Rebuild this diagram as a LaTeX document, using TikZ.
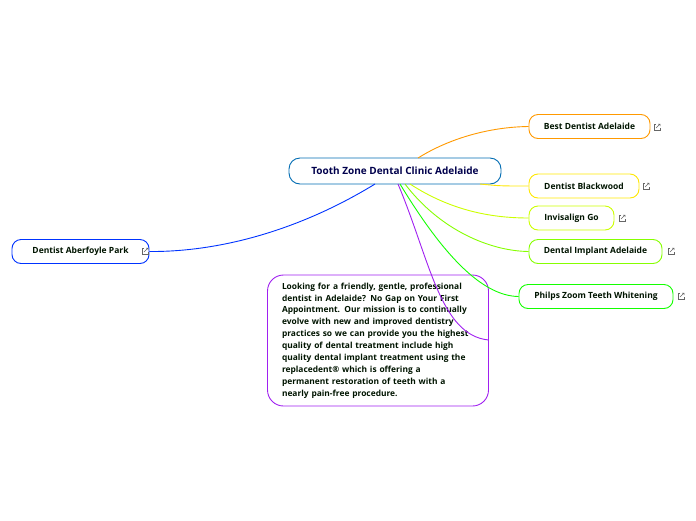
\documentclass[tikz,border=0pt]{standalone}
\usepackage{fontspec}
\setmainfont{Open Sans}
\usetikzlibrary{calc}
\definecolor{purp}{RGB}{160,32,240}
\begin{document}
\begin{tikzpicture}[x=1pt,y=-1pt,
  topic/.style={draw,rounded corners=9pt,line width=0.9pt,minimum height=24pt,font=\bfseries\fontsize{8.5}{9}\selectfont,text=black!80!green!40!black,inner xsep=12pt},
  link/.style={line width=0.9pt},
  ico/.style={gray!80!black,line width=0.5pt}]
\useasboundingbox (0,0) rectangle (696,520);
\newcommand{\exticon}[1]{\draw[ico] ($(#1)+(-1,-3)$) -- ($(#1)+(-3,-3)$) -- ($(#1)+(-3,3)$) -- ($(#1)+(3,3)$) -- ($(#1)+(3,1)$); \draw[ico] ($(#1)+(-1,1)$) -- ($(#1)+(3,-3)$) ($(#1)+(1,-3)$) -- ($(#1)+(3,-3)$) -- ($(#1)+(3,-1)$);}
\node[draw=blue!40!cyan!70!black,rounded corners=11pt,line width=0.9pt,minimum width=212pt,minimum height=26pt,font=\bfseries\fontsize{10}{11}\selectfont,text=blue!30!black] (c) at (395,171) {Tooth Zone Dental Clinic Adelaide};
\node[topic,draw=orange!80!yellow,minimum width=121pt] (a) at (589.5,126.5) {Best Dentist Adelaide};
\node[topic,draw=yellow!90!orange,minimum width=110pt] (b) at (584,186) {Dentist Blackwood};
\node[topic,draw=lime!80!yellow,minimum width=85pt] (i) at (571.5,218) {Invisalign Go};
\node[topic,draw=lime!70!green,minimum width=133pt] (d) at (595.5,251.5) {Dental Implant Adelaide};
\node[topic,draw=green!90!lime,minimum width=154pt] (p) at (596,296.5) {Philps Zoom Teeth Whitening};
\node[topic,draw=blue!80!cyan,minimum width=137pt] (f) at (80.5,251.5) {Dentist Aberfoyle Park};
\exticon{657,127}\exticon{646,186}\exticon{622,218}\exticon{671,251}\exticon{681,296}\exticon{145,251}
\node[draw=purp,rounded corners=16pt,line width=0.9pt,minimum width=221pt,minimum height=131pt,text width=192pt,align=left,font=\bfseries\fontsize{8.4}{11.9}\selectfont,text=black!80!green!40!black] (t) at (378,340.5) {Looking for a friendly, gentle, professional\\dentist in Adelaide? No Gap on Your First\\Appointment. Our mission is to continually\\evolve with new and improved dentistry\\practices so we can provide you the highest\\quality of dental treatment include high\\quality dental implant treatment using the\\replacedent® which is offering a\\permanent restoration of teeth with a\\nearly pain-free procedure.};
\coordinate (ct) at (488.5,340);
\draw[link,orange!80!yellow] (418,158) .. controls (450,138) and (490,127) .. (a.west);
\draw[link,yellow!90!orange] (480,184) .. controls (500,186) .. (b.west);
\draw[link,lime!80!yellow] (410,184) .. controls (450,210) and (490,218) .. (i.west);
\draw[link,lime!70!green] (405,184) .. controls (440,230) and (490,251) .. (d.west);
\draw[link,green!90!lime] (400,184) .. controls (440,250) and (480,296) .. (p.west);
\draw[link,purp] (398,184) .. controls (430,260) and (440,335) .. (ct);
\draw[link,blue!80!cyan] (375,184) .. controls (300,230) and (220,252) .. (f.east);
\end{tikzpicture}
\end{document}
